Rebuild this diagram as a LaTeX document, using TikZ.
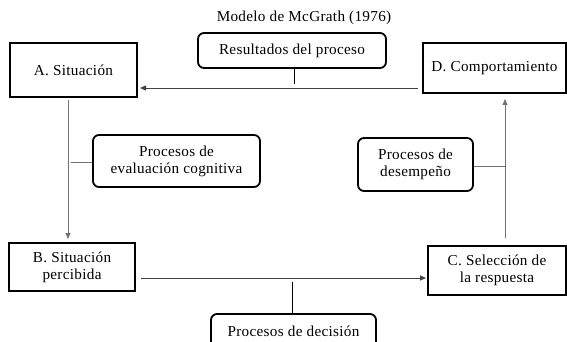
\documentclass[tikz,border=0pt]{standalone}
\usepackage{fontspec}
\setmainfont{Liberation Serif}[LetterSpace=2]
\usepackage{tikz}
\usetikzlibrary{arrows.meta}

\begin{document}
\begin{tikzpicture}[x=1pt, y=-1pt,
		sitbox/.style={draw, line width=2.7pt, align=center, inner sep=0pt},
		procbox/.style={draw, line width=1.8pt, rounded corners=6pt, align=center, inner sep=0pt},
		arr/.style={-{Triangle[length=6pt,width=5pt]}, line width=0.9pt},
		every node/.append style={font=\fontsize{15.2}{17}\selectfont}]
		\useasboundingbox (0,0) rectangle (567,342);
		\node at (304,18) {Modelo de McGrath (1976)};
		% cajas principales
		\node[sitbox, minimum width=127, minimum height=54] (A) at (73.5,70) {A. Situación};
		\node[sitbox, minimum width=143, minimum height=50] (D) at (494.5,68) {D. Comportamiento};
		\node[sitbox, minimum width=126, minimum height=48] (B) at (72,267) {B. Situación\\percibida};
		\node[sitbox, minimum width=138, minimum height=49] (C) at (497,270.5) {C. Selección de\\la respuesta};
		% procesos
		\node[procbox, minimum width=188, minimum height=35] (res) at (292,50.5) {Resultados del proceso};
		\node[procbox, minimum width=167, minimum height=52] (eval) at (176.5,161) {Procesos de\\evaluación cognitiva};
		\node[procbox, minimum width=115, minimum height=53] (desem) at (415.5,164.5) {Procesos de\\desempeño};
		\node[procbox, minimum width=165, minimum height=34] (dec) at (293.5,331) {Procesos de decisión};
		% puntos de las flechas
		\coordinate (dout) at (418,88);
		\coordinate (ain) at (140,88);
		\coordinate (resin) at (294,84);
		\coordinate (aout) at (68,100);
		\coordinate (bin) at (68,239);
		\coordinate (evalin) at (71,162);
		\coordinate (bout) at (141,278);
		\coordinate (cin) at (426,278);
		\coordinate (decin) at (292,282);
		\coordinate (cout) at (505,238);
		\coordinate (din) at (505,99);
		\coordinate (desemin) at (505,166);
		% flechas
		\draw[arr, black!75] (dout) -- (ain);
		\draw[line width=0.9pt] (res.south -| resin) -- (resin);
		\draw[arr, black!55] (aout) -- (bin);
		\draw[black!55, line width=0.9pt] (eval.west |- evalin) -- (evalin);
		\draw[arr, black!75] (bout) -- (cin);
		\draw[line width=0.9pt] (dec.north -| decin) -- (decin);
		\draw[arr, black!55] (cout) -- (din);
		\draw[black!55, line width=0.9pt] (desem.east |- desemin) -- (desemin);
	\end{tikzpicture}
\end{document}
